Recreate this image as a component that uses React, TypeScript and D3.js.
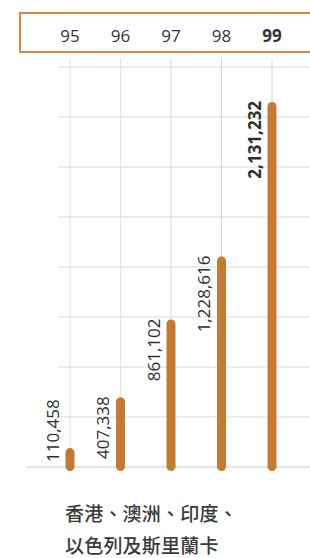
import React from "react";
import * as d3 from "d3";

const years = ["95", "96", "97", "98", "99"];
const values = [110458, 407338, 861102, 1228616, 2131232];
const boldYear = "99";
const noteLines = ["香港、澳洲、印度、", "以色列及斯里蘭卡"];
const gridSteps = 8;
const yMax = 2335000;

const W = 310;
const H = 558;
const BASE = 467;
const TOP = 67;
const BAR_COLOR = "#c47a31";
const BOX_COLOR = "#d98a35";

export default function App() {
  const x = d3.scalePoint<string>().domain(years).range([70, 272]);
  const y = d3.scaleLinear().domain([0, yMax]).range([BASE, TOP]);
  const fmt = d3.format(",");
  const gridVals = d3.range(0, gridSteps + 1).map((i) => (yMax * i) / gridSteps);
  const font = "'Open Sans', 'Noto Sans', sans-serif";

  return (
    <svg
      width={W}
      height={H}
      style={{ position: "absolute", left: 0, top: 0, background: "#fff" }}
    >
      {gridVals.map((v, i) => (
        <line
          key={"h" + i}
          x1={i === 0 ? 26 : 58}
          x2={W}
          y1={y(v)}
          y2={y(v)}
          stroke={i === 0 ? "#c9c9c9" : "#d9d9d9"}
          strokeWidth={1}
        />
      ))}
      {years.map((yr, i) => (
        <line
          key={"v" + yr}
          x1={x(yr)}
          x2={x(yr)}
          y1={58}
          y2={BASE}
          stroke={i < 2 ? "#e3e3e3" : "#d6d6d6"}
          strokeWidth={1}
        />
      ))}
      <rect x={20} y={13} width={310} height={39} fill="#fff" stroke={BOX_COLOR} strokeWidth={2} />
      {years.map((yr) => (
        <text
          key={"t" + yr}
          x={x(yr)}
          y={42}
          textAnchor="middle"
          fontFamily={font}
          fontSize={17}
          fontWeight={yr === boldYear ? 700 : 400}
          fill="#333"
        >
          {yr}
        </text>
      ))}
      {values.map((v, i) => {
        const cx = x(years[i])!;
        const top = y(v);
        return (
          <rect
            key={"b" + i}
            x={cx - 4.5}
            y={top}
            width={9}
            height={BASE + 4 - top}
            rx={4.5}
            fill={BAR_COLOR}
          />
        );
      })}
      {values.map((v, i) => {
        const cx = x(years[i])!;
        const top = y(v);
        const label = fmt(v);
        const bold = years[i] === boldYear;
        const estLen = label.length * (bold ? 9.6 : 9.1);
        const endY = Math.min(top - 1, BASE - 4 - estLen);
        const lx = cx - 11.5;
        return (
          <text
            key={"l" + i}
            transform={`translate(${lx},${endY}) rotate(-90)`}
            textAnchor="end"
            fontFamily={font}
            fontSize={17}
            fontWeight={bold ? 700 : 400}
            fill="#2e2e2e"
          >
            {label}
          </text>
        );
      })}
      {noteLines.map((t, i) => (
        <text
          key={"n" + i}
          x={65}
          y={521 + i * 32}
          fontFamily="'Noto Sans CJK TC', 'Noto Sans CJK SC', sans-serif"
          fontSize={19}
          fontWeight={500}
          fill="#3a3a3a"
          letterSpacing={0.2}
        >
          {t}
        </text>
      ))}
    </svg>
  );
}
